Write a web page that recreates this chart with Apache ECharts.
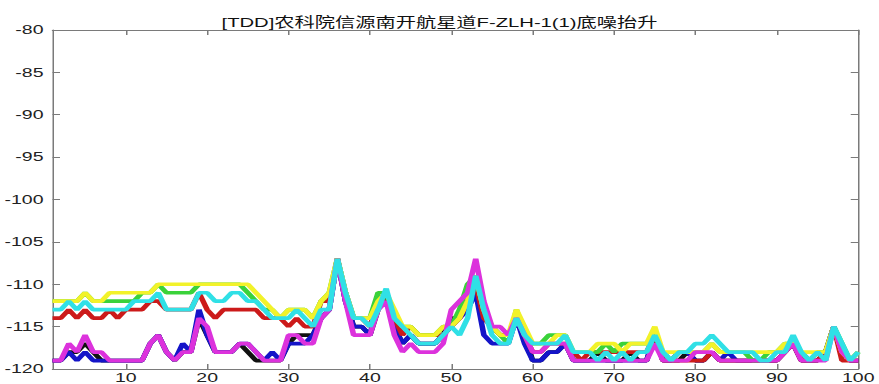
<!DOCTYPE html>
<html>
<head>
<meta charset="utf-8">
<script src="https://cdn.jsdelivr.net/npm/echarts@6/dist/echarts.min.js"></script>
<style>
  html, body { margin: 0; padding: 0; background: #fff; overflow: hidden; }
  /* the reference picture is stretched sideways, so draw narrow and stretch */
  #chart { width: 586px; height: 384px; transform: scaleX(1.5); transform-origin: 0 0; }
</style>
</head>
<body>
<div id="chart"></div>
<script>
const title = '[TDD]农科院信源南开航星道F-ZLH-1(1)底噪抬升'
const xTicks = [10, 20, 30, 40, 50, 60, 70, 80, 90, 100]

const black = [
  -119, -119, -118, -118, -117, -118, -119, -119, -119, -119,
  -119, -119, -117, -116, -118, -119, -118, -118, -114, -116,
  -118, -118, -118, -117, -118, -119, -119, -119, -119, -117,
  -116, -116, -116, -114, -113, -107, -112, -115, -115, -116,
  -113, -111, -115, -117, -116, -117, -117, -117, -116, -114,
  -114, -112, -110, -114, -115, -116, -116, -114, -116, -119,
  -119, -118, -118, -117, -119, -119, -119, -118, -119, -119,
  -119, -118, -119, -119, -116, -119, -119, -119, -118, -119,
  -119, -118, -119, -119, -119, -119, -119, -119, -119, -119,
  -118, -117, -119, -119, -119, -118, -115, -118, -119, -119
]
const blue = [
  -119, -119, -118, -119, -118, -119, -119, -119, -119, -119,
  -119, -119, -117, -116, -118, -119, -117, -118, -113, -116,
  -118, -118, -118, -117, -117, -118, -119, -118, -119, -117,
  -117, -117, -116, -114, -113, -107, -112, -115, -115, -116,
  -112, -111, -115, -117, -116, -117, -117, -117, -116, -115,
  -114, -113, -111, -116, -117, -117, -117, -114, -117, -119,
  -119, -118, -118, -117, -119, -119, -119, -119, -119, -119,
  -119, -119, -119, -119, -116, -119, -119, -118, -118, -119,
  -119, -118, -119, -118, -119, -119, -119, -119, -119, -119,
  -118, -117, -119, -119, -119, -118, -115, -118, -119, -119
]
const red = [
  -114, -114, -113, -114, -113, -114, -114, -113, -114, -113,
  -113, -113, -112, -112, -113, -113, -113, -113, -111, -113,
  -114, -113, -113, -113, -113, -113, -114, -114, -114, -115,
  -114, -115, -115, -112, -112, -107, -111, -114, -114, -115,
  -112, -112, -114, -116, -115, -116, -116, -116, -116, -115,
  -114, -112, -110, -114, -115, -116, -116, -114, -116, -118,
  -118, -117, -117, -117, -118, -119, -118, -118, -118, -118,
  -118, -118, -118, -118, -116, -119, -119, -119, -119, -119,
  -119, -118, -119, -119, -119, -119, -119, -119, -119, -119,
  -118, -117, -119, -119, -119, -118, -115, -119, -119, -119
]
const green = [
  -112, -112, -112, -112, -111, -112, -112, -112, -112, -112,
  -112, -111, -111, -110, -111, -111, -111, -111, -110, -110,
  -110, -110, -110, -110, -111, -112, -113, -113, -114, -113,
  -113, -113, -114, -112, -111, -107, -111, -114, -114, -114,
  -111, -111, -114, -115, -115, -116, -116, -116, -115, -115,
  -113, -110, -109, -113, -115, -116, -117, -113, -116, -117,
  -117, -116, -116, -116, -118, -118, -118, -118, -117, -118,
  -117, -117, -117, -117, -116, -118, -119, -118, -118, -118,
  -118, -117, -118, -118, -118, -118, -119, -119, -118, -118,
  -117, -117, -118, -119, -118, -118, -115, -117, -119, -118
]
const yellow = [
  -112, -112, -112, -112, -111, -112, -112, -111, -111, -111,
  -111, -111, -111, -110, -110, -110, -110, -110, -110, -110,
  -110, -110, -110, -110, -110, -111, -112, -113, -114, -113,
  -113, -113, -114, -112, -111, -107, -111, -114, -114, -114,
  -112, -111, -113, -115, -115, -116, -116, -116, -115, -115,
  -114, -112, -109, -113, -115, -116, -116, -113, -115, -117,
  -117, -117, -116, -116, -118, -118, -118, -117, -117, -117,
  -118, -117, -117, -117, -115, -118, -118, -118, -118, -118,
  -118, -117, -118, -118, -118, -118, -118, -118, -118, -118,
  -117, -117, -118, -118, -118, -118, -115, -118, -119, -118
]
const magenta = [
  -119, -119, -117, -118, -116, -118, -118, -119, -119, -119,
  -119, -119, -117, -116, -118, -119, -118, -118, -114, -115,
  -118, -118, -118, -117, -117, -118, -119, -119, -119, -116,
  -116, -117, -117, -114, -113, -107, -112, -116, -116, -116,
  -113, -112, -116, -118, -117, -118, -118, -118, -117, -113,
  -112, -111, -107, -112, -115, -115, -116, -114, -116, -118,
  -118, -117, -117, -117, -119, -119, -119, -119, -119, -119,
  -119, -119, -119, -119, -117, -119, -119, -119, -119, -118,
  -118, -118, -119, -119, -119, -119, -119, -119, -119, -119,
  -118, -117, -119, -119, -119, -119, -115, -118, -119, -119
]
const cyan = [
  -113, -113, -112, -113, -112, -113, -113, -113, -113, -113,
  -112, -112, -112, -111, -113, -113, -113, -113, -111, -111,
  -112, -112, -111, -111, -112, -112, -113, -114, -114, -114,
  -113, -114, -115, -113, -113, -107, -111, -114, -114, -115,
  -113, -110.5, -114, -115, -116, -117, -117, -117, -116, -115,
  -116, -114, -109, -113, -116, -117, -117, -114, -116, -117,
  -117, -117, -117, -116, -118, -118, -118, -119, -118, -119,
  -118, -119, -118, -118, -116, -118, -119, -118, -118, -117,
  -117, -116, -117, -118, -118, -118, -118, -119, -119, -118,
  -118, -116, -118, -119, -118, -119, -115, -117, -119, -118
]

// draw order: the last ones end up on top
const lines = [
  { data: black, color: '#111111' },
  { data: blue, color: '#1414c8' },
  { data: red, color: '#cc1a1a' },
  { data: green, color: '#3ad23a' },
  { data: yellow, color: '#f2f22a' },
  { data: magenta, color: '#dc32dc' },
  { data: cyan, color: '#30e0e6' }
]

const axisColor = '#7a7a7a'
const font = '"Liberation Sans", Arial, "Noto Sans CJK SC", sans-serif'

// sample number along x: 1 .. 100
function withIndex (arr) {
  return arr.map((v, i) => [i + 1, v])
}

const chart = echarts.init(document.getElementById('chart'), null, { renderer: 'svg' })
chart.setOption({
  animation: false,
  title: {
    text: title,
    left: 'center',
    top: 11,
    textStyle: { fontSize: 13.5, fontWeight: 'normal', color: '#111', fontFamily: font }
  },
  grid: { left: 34.67, right: 11.33, top: 30, bottom: 15, containLabel: false },
  xAxis: [{
    type: 'value',
    min: 1,
    max: 100,
    axisLine: { lineStyle: { color: axisColor, width: 1 } },
    axisTick: { inside: true, length: 5, customValues: xTicks, lineStyle: { color: axisColor } },
    axisLabel: { customValues: xTicks, margin: 2, fontSize: 13, color: '#222', fontFamily: font },
    splitLine: { show: false }
  }, {
    type: 'value',
    position: 'top',
    min: 1,
    max: 100,
    axisLine: { show: true, lineStyle: { color: axisColor, width: 1 } },
    axisTick: { inside: true, length: 5, customValues: xTicks, lineStyle: { color: axisColor } },
    axisLabel: { show: false },
    splitLine: { show: false }
  }],
  yAxis: [{
    type: 'value',
    min: -120,
    max: -80,
    interval: 5,
    axisLine: { show: true, lineStyle: { color: axisColor, width: 1 } },
    axisTick: { show: true, inside: true, length: 5, lineStyle: { color: axisColor } },
    axisLabel: { margin: 6, fontSize: 13, color: '#222', fontFamily: font },
    splitLine: { show: false }
  }, {
    type: 'value',
    position: 'right',
    min: -120,
    max: -80,
    interval: 5,
    axisLine: { show: true, lineStyle: { color: axisColor, width: 1 } },
    axisTick: { show: true, inside: true, length: 5, lineStyle: { color: axisColor } },
    axisLabel: { show: false },
    splitLine: { show: false }
  }],
  series: lines.map((l) => ({
    type: 'line',
    xAxisIndex: 0,
    yAxisIndex: 0,
    data: withIndex(l.data),
    symbol: 'none',
    smooth: false,
    lineStyle: { color: l.color, width: 3.7 },
    itemStyle: { color: l.color }
  }))
})
</script>
</body>
</html>
